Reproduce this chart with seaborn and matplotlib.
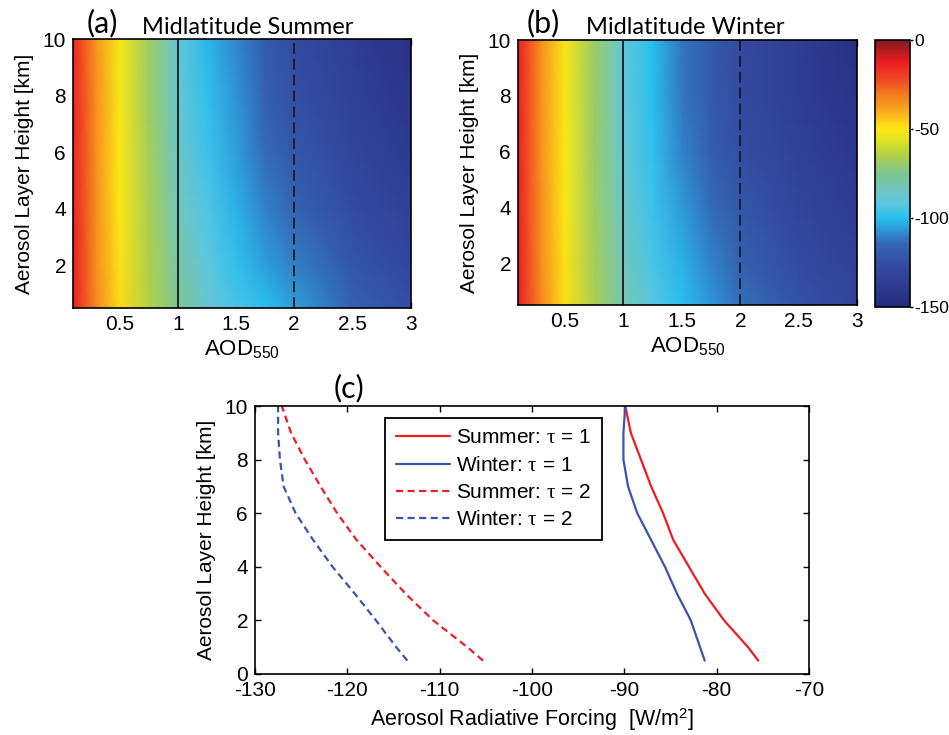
import numpy as np
import pandas as pd
import matplotlib
matplotlib.use("Agg")
import matplotlib.pyplot as plt
import seaborn as sns
from matplotlib.colors import LinearSegmentedColormap, Normalize

# ---------------------------------------------------------------- data
# forcing maps: AOD at 550 nm (columns) x aerosol layer height (rows), W/m^2
aod = [0.1, 0.3, 0.5, 0.75, 1.0, 1.25, 1.5, 1.75, 2.0, 2.5, 3.0]
map_heights = [0.5, 2, 4, 6, 8, 10]

summer_map = [
    [-12, -33, -48, -64, -75.5, -88, -95, -100, -105.3, -117, -125],
    [-12, -34, -49, -65, -79.2, -91, -99, -105, -110.7, -122, -129],
    [-13, -34, -50, -66, -83.0, -94, -102, -110, -116.4, -127, -134],
    [-13, -35, -50, -67, -85.8, -97, -105, -114, -121.1, -131, -139],
    [-13, -35, -51, -68, -88.2, -99, -107, -117, -124.6, -134, -142],
    [-14, -36, -51, -68, -89.9, -101, -109, -119, -127.1, -137, -145],
]
winter_map = [
    [-12, -33, -49, -66, -81.3, -93, -100, -107, -113.5, -124, -131],
    [-12, -34, -49, -67, -82.8, -95, -102, -110, -116.9, -127, -134],
    [-13, -34, -50, -68, -85.6, -97, -106, -114, -121.6, -131, -138],
    [-13, -35, -50, -69, -88.6, -99, -110, -118, -125.6, -134, -141],
    [-13, -35, -51, -69, -90.1, -100, -112, -120, -127.3, -136, -144],
    [-13, -35, -51, -69, -89.9, -100, -112, -120, -127.5, -137, -146],
]

# forcing profiles at fixed optical depth
profile_heights = [0.5, 1, 2, 3, 4, 5, 6, 7, 8, 9, 10]
summer_tau1 = [-75.5, -76.6, -79.2, -81.3, -83.0, -84.7, -85.8, -87.1, -88.2, -89.3, -89.9]
winter_tau1 = [-81.3, -81.8, -82.8, -84.3, -85.6, -87.1, -88.6, -89.6, -90.1, -90.1, -89.9]
summer_tau2 = [-105.3, -107.0, -110.7, -113.7, -116.4, -119.0, -121.1, -122.9, -124.6, -126.1, -127.1]
winter_tau2 = [-113.5, -114.7, -116.9, -119.2, -121.6, -123.7, -125.6, -126.9, -127.3, -127.5, -127.5]

aod_ticks = [0.5, 1, 1.5, 2, 2.5, 3]
aod_ticklabels = ["0.5", "1", "1.5", "2", "2.5", "3"]
cbar_ticks = [0, -50, -100, -150]

# ---------------------------------------------------------------- style
sns.set_style("ticks")
plt.rcParams.update({
    "font.family": ["Liberation Sans", "DejaVu Sans"],
    "mathtext.fontset": "custom",
    "mathtext.rm": "Liberation Sans",
    "mathtext.it": "Liberation Serif",
    "mathtext.bf": "Liberation Sans:bold",
    "axes.unicode_minus": False,
    "text.color": "black",
    "axes.labelcolor": "black",
    "axes.edgecolor": "black",
    "xtick.color": "black",
    "ytick.color": "black",
    "lines.dashed_pattern": [3.2, 2.0],
})

cmap = LinearSegmentedColormap.from_list("forcing", [
    (0.000, "#262a7d"),
    (0.067, "#2d3a8f"),
    (0.147, "#3349a0"),
    (0.233, "#3466b3"),
    (0.280, "#2f8fd3"),
    (0.333, "#29c0ee"),
    (0.387, "#5ec8e0"),
    (0.433, "#6fc6c4"),
    (0.500, "#80c690"),
    (0.567, "#aed04a"),
    (0.620, "#dde224"),
    (0.667, "#fbe816"),
    (0.720, "#fbb81b"),
    (0.787, "#f58220"),
    (0.867, "#ef3e24"),
    (0.920, "#ec1c24"),
    (1.000, "#7e1b1d"),
])
norm = Normalize(vmin=-150, vmax=0)

FS = 15
fig = plt.figure(figsize=(9.49, 7.35), dpi=100)

ax_a = fig.add_axes([0.0769, 0.581, 0.3558, 0.3656])
ax_b = fig.add_axes([0.5458, 0.585, 0.3577, 0.3605])
cax = fig.add_axes([0.922, 0.5823, 0.0374, 0.3633])
ax_c = fig.add_axes([0.2687, 0.083, 0.5838, 0.3646])


def style_axes(ax):
    ax.tick_params(direction="in", top=True, right=True, bottom=True, left=True,
                   length=4, width=1.0, labelsize=FS, pad=5)
    for sp in ax.spines.values():
        sp.set_visible(True)
        sp.set_linewidth(1.2)
        sp.set_color("black")


def forcing_map(ax, field):
    ax.pcolormesh(aod, map_heights, np.array(field), cmap=cmap, norm=norm,
                  shading="gouraud", rasterized=True)
    ax.axvline(1.0, color="#1a1a1a", lw=1.3)
    ax.axvline(2.0, color="#1a1a1a", lw=1.3, dashes=(6, 2.8))
    ax.set_xlim(0.1, 3)
    ax.set_ylim(0.5, 10)
    ax.set_xticks(aod_ticks)
    ax.set_xticklabels(aod_ticklabels)
    ax.set_yticks([2, 4, 6, 8, 10])
    ax.set_xlabel("AOD$_{550}$", fontsize=FS + 1, labelpad=3)
    ax.set_ylabel("Aerosol Layer Height [km]", fontsize=FS, labelpad=6)
    style_axes(ax)
    return ax.collections[0]


mesh = forcing_map(ax_a, summer_map)
forcing_map(ax_b, winter_map)

cb = fig.colorbar(mesh, cax=cax, ticks=cbar_ticks)
cb.outline.set_linewidth(1.2)
cb.outline.set_edgecolor("black")
cax.tick_params(direction="out", length=2, width=1.0, labelsize=12.5, pad=0.5)

# panel titles
title_font = ["Lato", "DejaVu Sans"]
fig.text(0.1075, 0.969, "(a)", family=title_font, fontsize=22, ha="center", va="center")
fig.text(0.2613, 0.963, "Midlatitude Summer", family=title_font, fontsize=17,
         ha="center", va="center")
fig.text(0.572, 0.969, "(b)", family=title_font, fontsize=22, ha="center", va="center")
fig.text(0.7218, 0.963, "Midlatitude Winter", family=title_font, fontsize=17,
         ha="center", va="center")
fig.text(0.3677, 0.472, "(c)", family=title_font, fontsize=22, ha="center", va="center")

# ---------------------------------------------------------------- profiles
red = "#ee1c25"
blue = "#3a52b0"
profiles = [
    (summer_tau1, red, "-", "Summer: $\\tau$ = 1"),
    (winter_tau1, blue, "-", "Winter: $\\tau$ = 1"),
    (summer_tau2, red, "--", "Summer: $\\tau$ = 2"),
    (winter_tau2, blue, "--", "Winter: $\\tau$ = 2"),
]
for values, color, ls, label in profiles:
    df = pd.DataFrame({"forcing": values, "height": profile_heights})
    sns.lineplot(data=df, x="forcing", y="height", sort=False, orient="y",
                 color=color, linestyle=ls, lw=1.6, label=label, ax=ax_c)

ax_c.set_xlim(-130, -70)
ax_c.set_ylim(0, 10)
ax_c.set_xticks(range(-130, -69, 10))
ax_c.set_yticks(range(0, 11, 2))
ax_c.set_xlabel("Aerosol Radiative Forcing  [W/m$^2$]", fontsize=FS + 0.5, labelpad=5)
ax_c.set_ylabel("Aerosol Layer Height [km]", fontsize=FS, labelpad=6)
style_axes(ax_c)

leg = ax_c.legend(loc="upper left", bbox_to_anchor=(0.235, 0.955), frameon=True,
                  fancybox=False, edgecolor="black", framealpha=1, fontsize=FS,
                  handlelength=2.6, handletextpad=0.3, borderpad=0.5,
                  labelspacing=0.4, borderaxespad=0)
leg.get_frame().set_linewidth(1.3)

fig.savefig("out.png", dpi=100)
